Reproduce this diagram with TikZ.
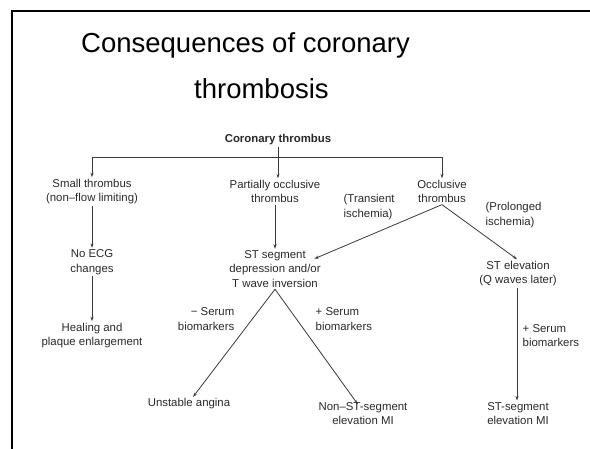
\documentclass[tikz,border=0pt]{standalone}
\usepackage{fontspec}
\setmainfont{Liberation Sans}
\usetikzlibrary{arrows.meta}
\definecolor{txt}{HTML}{2A2A2A}
\definecolor{ln}{HTML}{3A3A3A}
\tikzset{
  lbl/.style={font=\fontsize{11.4}{14.5}\selectfont, text=txt, align=center, inner sep=1.5pt},
  side/.style={lbl},
  ttl/.style={font=\fontsize{27.5}{32}\selectfont, text=black, inner sep=0pt, anchor=base west},
  conn/.style={draw=ln, line width=0.8pt},
  arr/.style={conn, -{Stealth[length=4.5pt,width=3pt]}},
  frame/.style={draw=black, line width=2.6pt}
}
\begin{document}
\begin{tikzpicture}[x=1pt,y=-1pt]
\useasboundingbox (0,0) rectangle (590,449);
\fill[white] (0,0) rectangle (590,449);
\draw[frame] (12,452) -- (12,11) -- (593,11);
% title
\node[ttl] (t1) at (81,53) {Consequences of coronary};
\node[ttl] (t2) at (194,99) {thrombosis};
% nodes
\node[lbl, font=\bfseries\fontsize{11.4}{14.5}\selectfont] (ct) at (278,140) {Coronary thrombus};
\coordinate (barL) at (92,157);
\coordinate (barR) at (442,157);
\node[lbl] (small) at (92,191.5) {Small thrombus\\(non–flow limiting)};
\node[lbl] (part) at (275,191.5) {Partially occlusive\\thrombus};
\node[lbl] (occl) at (442,191.5) {Occlusive\\thrombus};
\node[lbl] (noecg) at (92,262) {No ECG\\changes};
\node[lbl] (heal) at (92,335.5) {Healing and\\plaque enlargement};
\node[lbl] (stdep) at (275,269) {ST segment\\depression and/or\\T wave inversion};
\node[lbl] (stelev) at (518,273.5) {ST elevation\\(Q waves later)};
\node[lbl] (ua) at (189,404) {Unstable angina};
\node[lbl] (nstemi) at (363,413.5) {Non–ST-segment\\elevation MI};
\node[lbl] (stemi) at (518,413.5) {ST-segment\\elevation MI};
% side labels
\node[side, align=left, anchor=west] (trans) at (342,207) {(Transient\\ischemia)};
\node[side, align=left, anchor=west] (prol) at (484,215) {(Prolonged\\ischemia)};
\node[side, align=right, anchor=east] (negs) at (236,319) {− Serum\\biomarkers};
\node[side, align=left, anchor=west] (poss) at (314,319) {+ Serum\\biomarkers};
\node[side, align=left, anchor=west] (poss2) at (521,335.5) {+ Serum\\biomarkers};
% connectors
\draw[conn] (ct.south) -- (ct.south |- barL);
\draw[conn] (barL) -- (barR);
\draw[arr] (barL) -- (small.north);
\draw[arr] (ct.south |- barL) -- (ct.south |- part.north);
\draw[arr] (barR) -- (occl.north);
\draw[arr] (small) -- (noecg);
\draw[arr] (noecg) -- (heal);
\draw[arr] (part) -- (stdep);
\draw[arr] (occl.south) -- ([xshift=-8pt,yshift=-10pt]stdep.north east);
\draw[arr] (occl.south) -- ([xshift=-1pt]stelev.north);
\draw[arr] (stdep.south) -- ([xshift=4pt]ua.north);
\draw[arr] (stdep.south) -- ([xshift=-5pt,yshift=-4pt]nstemi.north);
\draw[arr] ([xshift=-1pt]stelev.south) -- ([xshift=-1pt]stemi.north);
\end{tikzpicture}
\end{document}
